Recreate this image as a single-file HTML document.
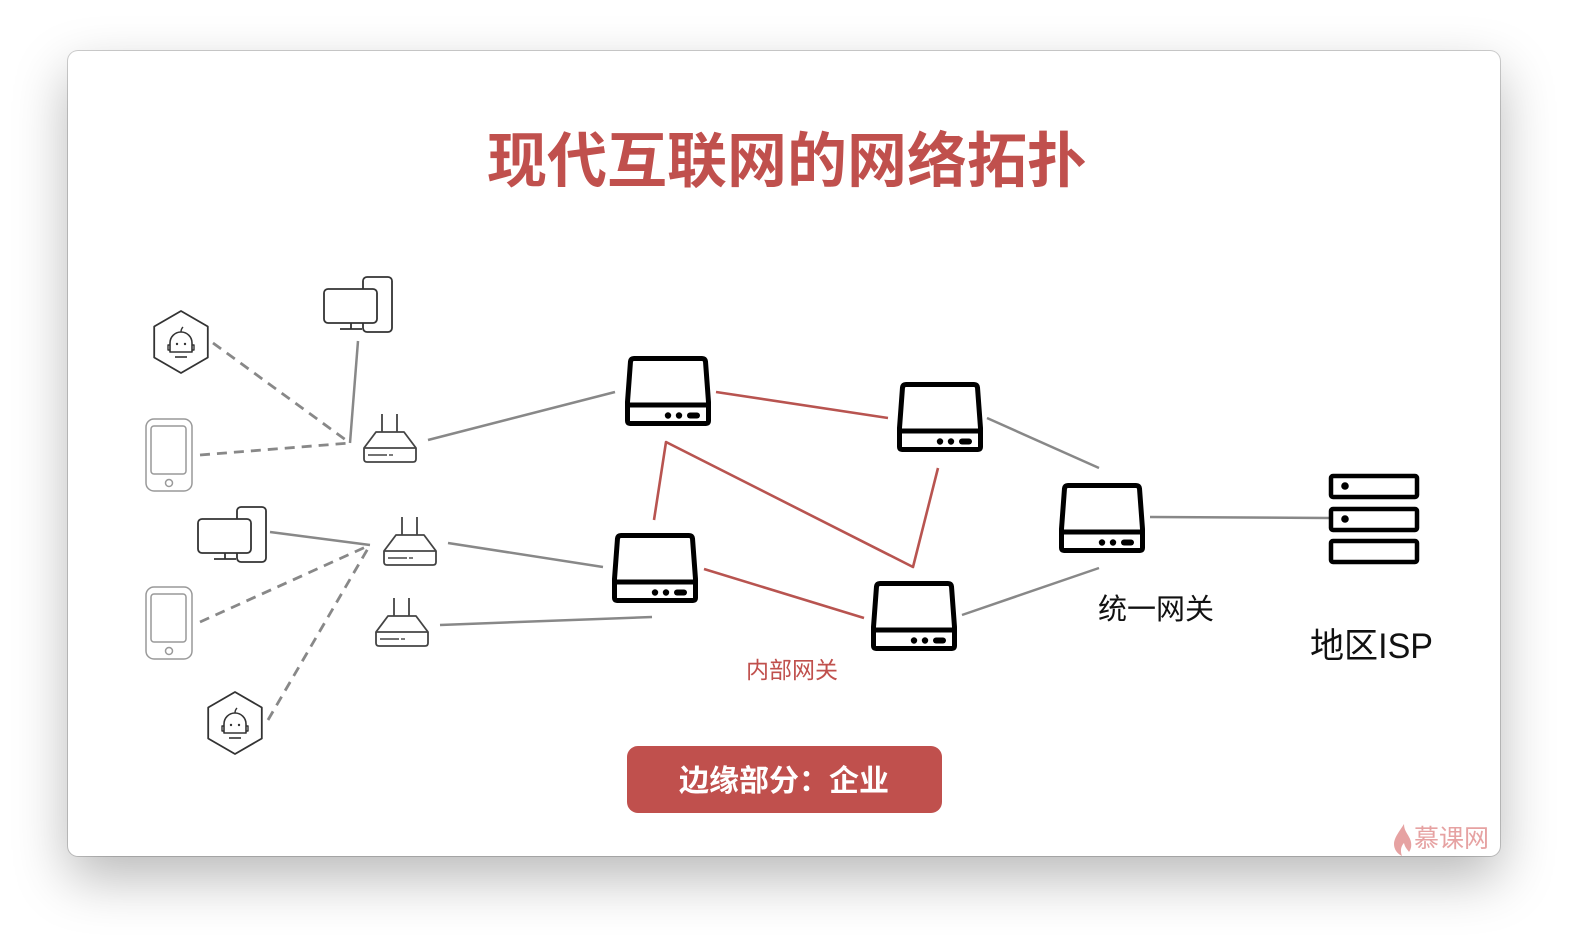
<!DOCTYPE html>
<html><head><meta charset="utf-8">
<style>
html,body{margin:0;padding:0;width:1576px;height:946px;overflow:hidden;background:#fff;}
.win{position:absolute;left:68px;top:51px;width:1432px;height:805px;background:#fff;border-radius:10px;
box-shadow:0 22px 55px rgba(0,0,0,0.28),0 0 0 1px rgba(0,0,0,0.18);}
svg{position:absolute;left:0;top:0;}
text{font-family:"Liberation Sans","Noto Sans CJK SC",sans-serif;}
</style></head>
<body>
<div class="win"></div>
<svg width="1576" height="946" viewBox="0 0 1576 946" xmlns="http://www.w3.org/2000/svg">
<defs>
  <g id="srv">
    <path d="M9,2.5 H77 Q80,2.5 80.5,5.5 L83.5,46 V65 Q83.5,67.5 81,67.5 H5 Q2.5,67.5 2.5,65 V46 L5.5,5.5 Q6,2.5 9,2.5 Z" fill="#fff" stroke="#000" stroke-width="5" stroke-linejoin="round"/>
    <line x1="2.5" y1="49" x2="83.5" y2="49" stroke="#000" stroke-width="5"/>
    <circle cx="43" cy="59.5" r="3.2" fill="#000"/>
    <circle cx="54" cy="59.5" r="3.2" fill="#000"/>
    <rect x="62" y="56.5" width="13" height="6" rx="3" fill="#000"/>
  </g>
  <g id="rtr" fill="none" stroke="#444" stroke-width="1.8" stroke-linejoin="round">
    <line x1="20" y1="0" x2="20" y2="18"/>
    <line x1="35" y1="0" x2="35" y2="18"/>
    <path d="M14,18 H42 L54,34 V45 Q54,48 51,48 H5 Q2,48 2,45 V34 Z" fill="#fff"/>
    <line x1="2" y1="34" x2="54" y2="34"/>
    <line x1="6" y1="41" x2="25" y2="41" stroke-width="1.4"/>
    <line x1="27" y1="41" x2="31" y2="41" stroke-width="1.4"/>
  </g>
  <g id="pc" fill="#fff" stroke="#333" stroke-width="1.8" stroke-linejoin="round">
    <rect x="39" y="-12" width="29" height="55" rx="4"/>
    <rect x="0" y="0" width="53" height="34" rx="4"/>
    <line x1="27" y1="34" x2="27" y2="40"/>
    <line x1="16" y1="40" x2="38" y2="40"/>
  </g>
  <g id="tab" fill="none" stroke="#999" stroke-width="1.5">
    <rect x="0" y="0" width="46" height="72" rx="8"/>
    <rect x="5" y="7" width="35" height="48" rx="3"/>
    <circle cx="23" cy="64" r="3.5"/>
  </g>
  <g id="bot" fill="none" stroke="#333" stroke-width="1.8" stroke-linejoin="round">
    <polygon points="0,-31 26.8,-15.5 26.8,15.5 0,31 -26.8,15.5 -26.8,-15.5"/>
    <path d="M-11,10 V1 A11,11 0 0 1 11,1 V10 Z" stroke-width="1.6"/>
    <path d="M-11,3 H-13 V8 H-11 M11,3 H13 V8 H11" stroke-width="1.4"/>
    <path d="M0,-10 Q0,-13 2,-15" stroke-width="1.4"/>
    <circle cx="-4" cy="2" r="1.2" fill="#333" stroke="none"/>
    <circle cx="4" cy="2" r="1.2" fill="#333" stroke="none"/>
    <line x1="-6" y1="15" x2="6" y2="15" stroke-width="1.6"/>
  </g>
</defs>

<!-- title -->
<text x="787" y="182" text-anchor="middle" font-size="60" font-weight="bold" fill="#c0504d">现代互联网的网络拓扑</text>

<!-- gray connectors -->
<g stroke="#888" stroke-width="2.5" fill="none">
  <line x1="358" y1="341" x2="350" y2="443"/>
  <line x1="428" y1="440" x2="615" y2="392"/>
  <line x1="270" y1="532" x2="370" y2="545"/>
  <line x1="448" y1="543" x2="603" y2="567"/>
  <line x1="440" y1="625" x2="652" y2="617"/>
  <line x1="987" y1="418" x2="1099" y2="468"/>
  <line x1="962" y1="615" x2="1099" y2="568"/>
  <line x1="1150" y1="517" x2="1329" y2="518"/>
</g>
<g stroke="#888" stroke-width="2.8" fill="none" stroke-dasharray="10 7">
  <line x1="213" y1="343" x2="350" y2="443"/>
  <line x1="200" y1="455" x2="350" y2="443"/>
  <line x1="200" y1="622" x2="370" y2="545"/>
  <line x1="268" y1="720" x2="370" y2="545"/>
</g>

<!-- red connectors -->
<g stroke="#b85450" stroke-width="2.6" fill="none" stroke-linejoin="round">
  <line x1="716" y1="392" x2="888" y2="418"/>
  <polyline points="654,520 666,442 913,567 938,468"/>
  <line x1="704" y1="569" x2="864" y2="618"/>
</g>

<!-- devices -->
<use href="#bot" x="181" y="342"/>
<use href="#bot" x="235" y="723"/>
<use href="#pc" x="324" y="289"/>
<use href="#pc" x="198" y="519"/>
<use href="#tab" x="146" y="419"/>
<use href="#tab" x="146" y="587"/>
<use href="#rtr" x="362" y="414"/>
<use href="#rtr" x="382" y="517"/>
<use href="#rtr" x="374" y="598"/>

<!-- servers -->
<use href="#srv" x="625" y="356"/>
<use href="#srv" x="897" y="382"/>
<use href="#srv" x="612" y="533"/>
<use href="#srv" x="871" y="581"/>
<use href="#srv" x="1059" y="483"/>

<!-- ISP stack -->
<g fill="#fff" stroke="#000" stroke-width="4.5">
  <rect x="1331" y="476" width="86" height="21" rx="2"/>
  <rect x="1331" y="509" width="86" height="21" rx="2"/>
  <rect x="1331" y="541" width="86" height="21" rx="2"/>
</g>
<circle cx="1345" cy="486" r="3.8" fill="#000"/>
<circle cx="1345" cy="519" r="3.8" fill="#000"/>

<!-- labels -->
<text x="746" y="678" font-size="23" fill="#c0504d">内部网关</text>
<text x="1098" y="619" font-size="29" fill="#111">统一网关</text>
<text x="1310" y="658" font-size="35" fill="#111" textLength="123" lengthAdjust="spacingAndGlyphs">地区ISP</text>

<!-- button -->
<rect x="627" y="746" width="315" height="67" rx="11" fill="#c0504d"/>
<text x="784" y="791" text-anchor="middle" font-size="30" font-weight="bold" fill="#fff">边缘部分：企业</text>

<!-- watermark -->
<path d="M1404,824 C1399,832 1394,838 1394,844 C1394,850 1398,854 1402,856 C1400,851 1401,846 1404,843 C1405,848 1408,850 1409,852 C1412,848 1412,842 1409,837 C1407,833 1404,830 1404,824 Z" fill="#e6a2a2"/>
<text x="1414" y="847" font-size="25" fill="#e6a2a2">慕课网</text>
</svg>
</body></html>
